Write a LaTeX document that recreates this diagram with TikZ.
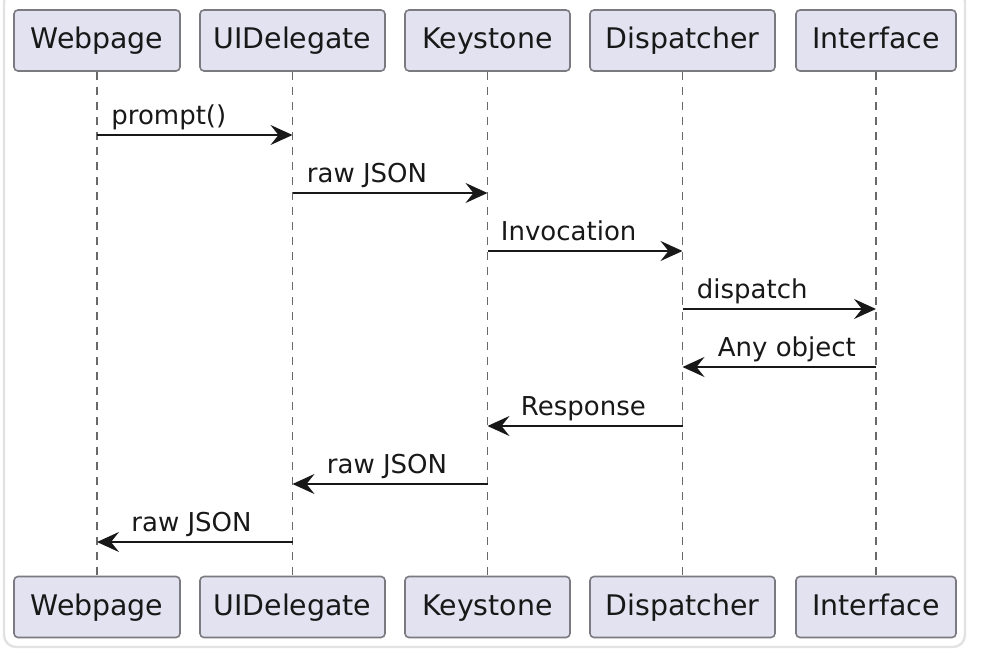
\documentclass[tikz,border=0pt]{standalone}
\usepackage{fontspec}
\setmainfont{DejaVu Sans}
\usetikzlibrary{arrows.meta}
\definecolor{pfill}{HTML}{E2E2F0}
\definecolor{pborder}{HTML}{7A7A80}
\definecolor{ink}{HTML}{181818}
\definecolor{framec}{HTML}{E2E2E2}
\tikzset{
  part/.style={draw=pborder, line width=0.8pt, fill=pfill, rounded corners=2pt,
    inner sep=0pt, minimum height=30.5pt, text height=10.6pt, text depth=2.6pt,
    font=\fontsize{14.2}{16}\selectfont, text=ink},
  life/.style={draw=ink!65, line width=0.6pt, dash pattern=on 4pt off 3.5pt},
  msg/.style={draw=ink, line width=1pt, -{Stealth[length=11pt, width=10pt, inset=4pt]}},
  lbl/.style={anchor=base west, inner sep=0pt, font=\fontsize{13}{15}\selectfont, text=ink}
}
\begin{document}
\begin{tikzpicture}[x=0.5pt, y=-0.5pt]
\useasboundingbox (0,0) rectangle (982,664);
\draw[framec, line width=1.2pt, rounded corners=6pt] (4,-10) rectangle (965,647);
% participants top
\node[part, minimum width=83pt] (wT) at (97,40.5) {Webpage};
\node[part, minimum width=92.5pt] (uT) at (292.5,40.5) {UIDelegate};
\node[part, minimum width=82.5pt] (kT) at (487.5,40.5) {Keystone};
\node[part, minimum width=92.5pt] (dT) at (682.5,40.5) {Dispatcher};
\node[part, minimum width=80pt] (iT) at (876,40.5) {Interface};
% participants bottom
\node[part, minimum width=83pt] (wB) at (97,607) {Webpage};
\node[part, minimum width=92.5pt] (uB) at (292.5,607) {UIDelegate};
\node[part, minimum width=82.5pt] (kB) at (487.5,607) {Keystone};
\node[part, minimum width=92.5pt] (dB) at (682.5,607) {Dispatcher};
\node[part, minimum width=80pt] (iB) at (876,607) {Interface};
% lifelines
\draw[life] (wT.south) -- (wB.north);
\draw[life] (uT.south) -- (uB.north);
\draw[life] (kT.south) -- (kB.north);
\draw[life] (dT.south) -- (dB.north);
\draw[life] (iT.south) -- (iB.north);
% message rows
\coordinate (r1) at (0,135);
\coordinate (r2) at (0,193);
\coordinate (r3) at (0,251);
\coordinate (r4) at (0,309);
\coordinate (r5) at (0,367);
\coordinate (r6) at (0,426);
\coordinate (r7) at (0,484);
\coordinate (r8) at (0,542);
% messages
\draw[msg] (wT |- r1) -- (uT |- r1);
\node[lbl] (m1) at ([xshift=7pt, yshift=5.5pt]wT |- r1) {prompt()};
\draw[msg] (uT |- r2) -- (kT |- r2);
\node[lbl] (m2) at ([xshift=7pt, yshift=5.5pt]uT |- r2) {raw JSON};
\draw[msg] (kT |- r3) -- (dT |- r3);
\node[lbl] (m3) at ([xshift=6.5pt, yshift=5.5pt]kT |- r3) {Invocation};
\draw[msg] (dT |- r4) -- (iT |- r4);
\node[lbl] (m4) at ([xshift=7pt, yshift=5.5pt]dT |- r4) {dispatch};
\draw[msg] (iT |- r5) -- (dT |- r5);
\node[lbl] (m5) at ([xshift=17.5pt, yshift=5.5pt]dT |- r5) {Any object};
\draw[msg] (dT |- r6) -- (kT |- r6);
\node[lbl] (m6) at ([xshift=16.5pt, yshift=5.5pt]kT |- r6) {Response};
\draw[msg] (kT |- r7) -- (uT |- r7);
\node[lbl] (m7) at ([xshift=17pt, yshift=5.5pt]uT |- r7) {raw JSON};
\draw[msg] (uT |- r8) -- (wT |- r8);
\node[lbl] (m8) at ([xshift=17pt, yshift=5.5pt]wT |- r8) {raw JSON};
\end{tikzpicture}
\end{document}
